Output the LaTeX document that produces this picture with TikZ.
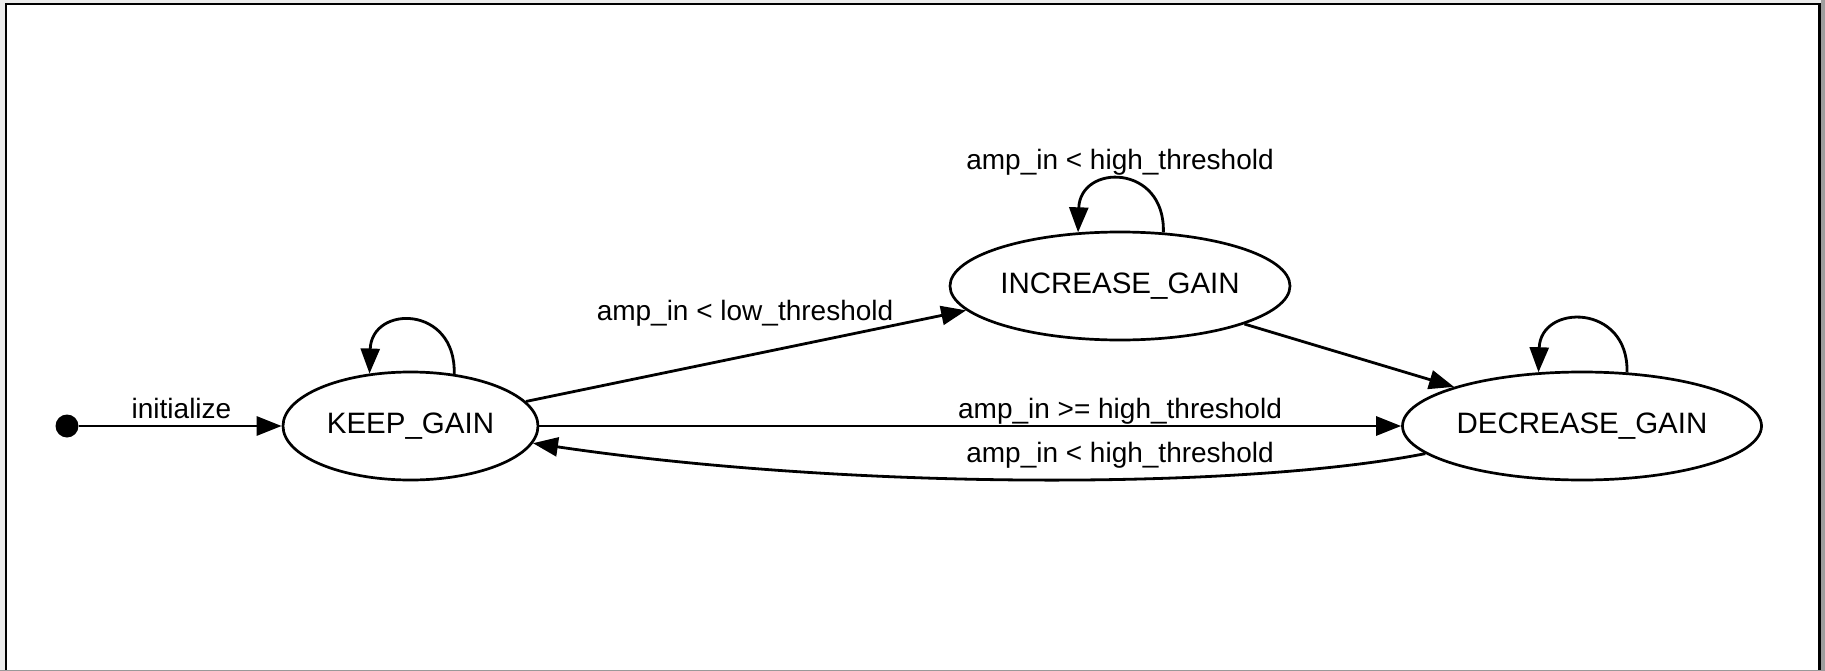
\documentclass[tikz,border=0pt]{standalone}
\usepackage{fontspec}
\setmainfont{Liberation Sans}
\usetikzlibrary{arrows.meta,shapes.geometric}
\begin{document}
\begin{tikzpicture}[x=1pt,y=-1pt,
  state/.style={draw,ellipse,line width=2.7pt,minimum height=108pt,inner sep=0pt,
    font=\fontsize{29.5}{32}\selectfont},
  edge/.style={line width=2.8pt,-{Triangle[length=25pt,width=19pt]}},
  lbl/.style={anchor=base,inner sep=0pt,font=\fontsize{28}{30}\selectfont}]
\useasboundingbox (0,0) rectangle (1825,671);
% frame
\fill[black!8] (0,0) rectangle (1825,671);
\fill[black!38] (1821,0) rectangle (1825,671);
\fill[white] (6,4) rectangle (1819.5,670);
\draw[line width=2.5pt] (6,672) -- (6,4) -- (1819.5,4) -- (1819.5,672);
\draw[black!40,line width=1.5pt] (0,670.5) -- (1825,670.5);
% nodes
\node[circle,fill,inner sep=0pt,minimum size=23pt] (s) at (67,426) {};
\node[state,minimum width=255pt] (k) at (410.5,426) {KEEP\_GAIN};
\node[state,minimum width=340pt] (i) at (1120,286) {INCREASE\_GAIN};
\node[state,minimum width=359pt] (d) at (1582,426) {DECREASE\_GAIN};
% edges
\draw[edge] (s) -- (k.west);
\draw[edge] (k.east) -- (d.west);
\draw[edge] (k.12.8) -- (i.189.6);
\draw[edge] (i.343.8) -- (d.163.3);
\draw[edge] (d.190.2) .. controls (1240,490) and (850,490) .. (k.352.8);
\draw[edge] (k.50.9) .. controls +(2,-69) and +(2,-69) .. (k.128.4);
\draw[edge] (i.51.5) .. controls +(2,-69) and +(2,-69) .. (i.128);
\draw[edge] (d.50) .. controls +(2,-69) and +(2,-69) .. (d.129.4);
% labels
\node[lbl] (l0) at (181.5,418) {initialize};
\node[lbl] (l1) at (1120,170) {amp\_in < high\_threshold};
\node[lbl] (l2) at (745,320) {amp\_in < low\_threshold};
\node[lbl] (l3) at (1120,418) {amp\_in >= high\_threshold};
\node[lbl] (l4) at (1120,462) {amp\_in < high\_threshold};
\end{tikzpicture}
\end{document}
